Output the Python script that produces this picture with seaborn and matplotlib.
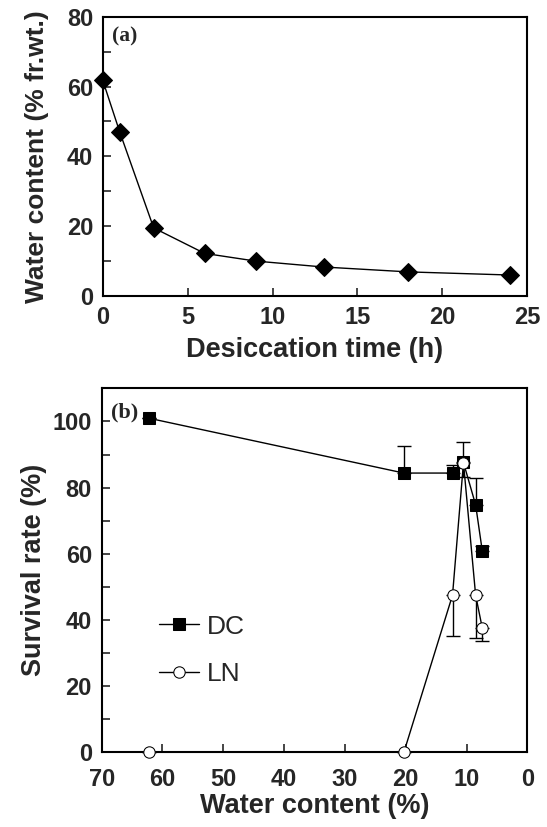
import numpy as np
import pandas as pd
import matplotlib
matplotlib.use("Agg")
import matplotlib.pyplot as plt
import seaborn as sns

# panel (a): desiccation curve
time_h = [0, 1, 3, 6, 9, 13, 18, 24]
water_pct = [61.8, 47.0, 19.5, 12.2, 10.0, 8.3, 6.9, 6.0]

# panel (b): survival vs water content
wc = [62.3, 20.3, 12.3, 10.5, 8.5, 7.4]
dc_surv = [101, 84.4, 84.4, 87.6, 74.8, 60.8]
dc_err = [0, 8.1, 2.5, 6.2, 8.0, 1.5]
ln_surv = [0, 0, 47.5, 87.5, 47.5, 37.5]
ln_err = [0, 0, 12.3, 4.3, 13.0, 4.0]

sns.set_style("ticks")
plt.rcParams['font.family'] = ['Liberation Sans', 'DejaVu Sans']
plt.rcParams['axes.linewidth'] = 1.5

fig = plt.figure(figsize=(5.47, 8.27), dpi=100)
ax1 = fig.add_axes([0.1878, 0.6421, 0.7762, 0.3377])
ax2 = fig.add_axes([0.1859, 0.0903, 0.7781, 0.4401])

dfa = pd.DataFrame({"t": time_h, "w": water_pct})
sns.lineplot(data=dfa, x="t", y="w", ax=ax1, color="black", lw=1,
             marker="D", markersize=9, markeredgecolor="black", markerfacecolor="black")
for ln in ax1.lines:
    ln.set_clip_on(False)
ax1.set_xlim(0, 25)
ax1.set_ylim(0, 80)
ax1.set_xticks([0, 5, 10, 15, 20, 25])
ax1.set_yticks([0, 20, 40, 60, 80])
ax1.set_yticks([10, 30, 50, 70], minor=True)
ax1.set_xlabel("Desiccation time (h)", fontsize=19.5, fontweight="bold", labelpad=6)
ax1.set_ylabel("Water content (% fr.wt.)", fontsize=19, fontweight="bold", labelpad=13)
ax1.text(0.021, 0.965, "(a)", transform=ax1.transAxes, fontsize=15.5, fontweight="bold",
         family="Liberation Serif", va="top")

dfb = pd.DataFrame({"wc": wc + wc,
                    "surv": dc_surv + ln_surv,
                    "grp": ["DC"] * len(wc) + ["LN"] * len(wc)})
ax2.errorbar(wc, dc_surv, yerr=[np.zeros(len(wc)), dc_err], fmt="none",
             ecolor="black", elinewidth=1, capsize=5, capthick=1, zorder=2)
ax2.errorbar(wc, ln_surv, yerr=[ln_err, np.zeros(len(wc))], fmt="none",
             ecolor="black", elinewidth=1, capsize=5, capthick=1, zorder=2)
sns.lineplot(data=dfb[dfb.grp == "DC"], x="wc", y="surv", ax=ax2, color="black", lw=1,
             marker="s", markersize=8.5, markerfacecolor="black", markeredgecolor="black",
             sort=False, label="DC", zorder=3)
sns.lineplot(data=dfb[dfb.grp == "LN"], x="wc", y="surv", ax=ax2, color="black", lw=1,
             marker="o", markersize=8.2, markerfacecolor="white", markeredgecolor="black",
             sort=False, label="LN", zorder=4)
for ln in ax2.lines:
    ln.set_clip_on(False)
ax2.set_xlim(70, 0)
ax2.set_ylim(0, 110)
ax2.set_xticks([70, 60, 50, 40, 30, 20, 10, 0])
ax2.set_yticks([0, 20, 40, 60, 80, 100])
ax2.set_yticks([10, 30, 50, 70, 90], minor=True)
ax2.set_xlabel("Water content (%)", fontsize=19.5, fontweight="bold", labelpad=2)
ax2.set_ylabel("Survival rate (%)", fontsize=19.5, fontweight="bold", labelpad=4)
ax2.text(0.023, 0.96, "(b)", transform=ax2.transAxes, fontsize=16, fontweight="bold",
         family="Liberation Serif", va="top")
leg = ax2.legend(loc="center left", bbox_to_anchor=(0.08, 0.28), frameon=False,
                 fontsize=19, handlelength=1.5, handletextpad=0.3, labelspacing=0.9)

for ax in (ax1, ax2):
    ax.tick_params(which="both", direction="in", width=1.2, labelsize=17)
    ax.tick_params(which="both", length=6)
    ax.tick_params(axis="y", pad=7)
    for lab in ax.get_xticklabels() + ax.get_yticklabels():
        lab.set_fontweight("bold")
    for s in ax.spines.values():
        s.set_visible(True)
        s.set_color("black")
ax1.tick_params(axis="x", pad=7)
ax2.tick_params(axis="x", pad=11)

fig.savefig("out.png", dpi=100)
